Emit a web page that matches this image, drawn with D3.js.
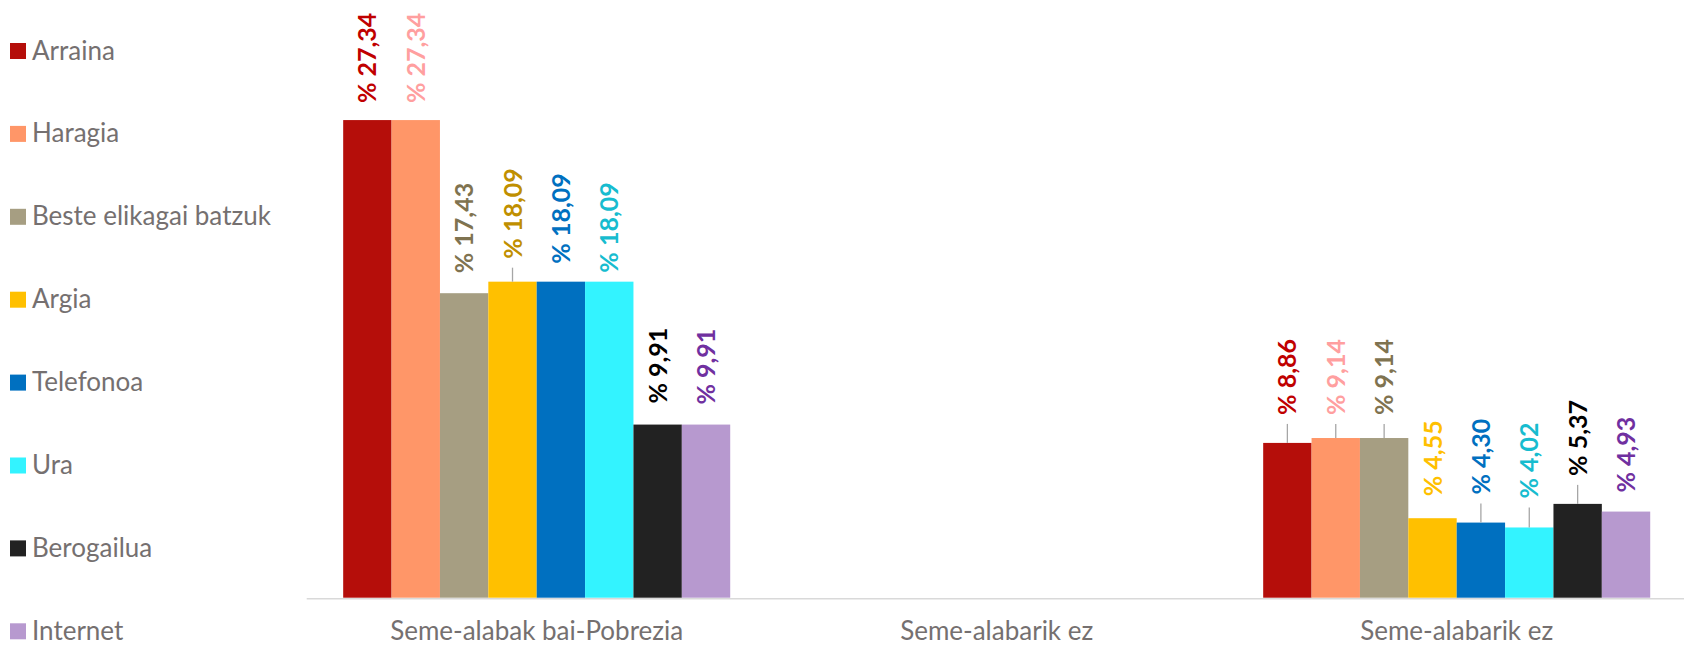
<!DOCTYPE html>
<html>
<head>
<meta charset="utf-8">
<script src="https://cdn.jsdelivr.net/npm/d3@7/dist/d3.min.js"></script>
<style>
  body { margin: 0; background: #fff; }
  .legText, .catText { font-family: Lato, "Open Sans", sans-serif; fill: #757070; font-size: 26px; }
  .valText { font-family: Lato, sans-serif; font-weight: bold; font-size: 25px; }
</style>
</head>
<body>
<div id="chart"></div>
<script>
// categories (the middle one has no bars)
var categories = ["Seme-alabak bai-Pobrezia", "Seme-alabarik ez", "Seme-alabarik ez"];

// series names
var seriesNames = ["Arraina", "Haragia", "Beste elikagai batzuk", "Argia",
                   "Telefonoa", "Ura", "Berogailua", "Internet"];

// values per series, one for each category
var arraina    = [27.34, null, 8.86];
var haragia    = [27.34, null, 9.14];
var beste      = [17.43, null, 9.14];
var argia      = [18.09, null, 4.55];
var telefonoa  = [18.09, null, 4.30];
var ura        = [18.09, null, 4.02];
var berogailua = [9.91,  null, 5.37];
var internet   = [9.91,  null, 4.93];

var allValues = [arraina, haragia, beste, argia, telefonoa, ura, berogailua, internet];

// colours
var barColors = ["#B50E0A", "#FF9668", "#A69E82", "#FFC000", "#0070C0", "#33F3FF", "#222222", "#B799CF"];
var labelColors = [
  ["#C00000", null, "#C00000"],
  ["#FF9F9F", null, "#FF9F9F"],
  ["#7F7350", null, "#7F7350"],
  ["#BF8F00", null, "#FFC000"],
  ["#0070C0", null, "#0070C0"],
  ["#17BCCF", null, "#17BCCF"],
  ["#000000", null, "#000000"],
  ["#7030A0", null, "#7030A0"]
];

// how far each label sits above its bar (px), labels were moved by hand in the original
var labelLift = [
  [17, 0, 28], [17, 0, 23], [20, 0, 23], [23, 0, 22],
  [18, 0, 28], [9, 0, 29], [21, 0, 28], [20, 0, 19]
];

var width = 1684;
var height = 646;
var baseY = 597.7;

var svg = d3.select("#chart").append("svg")
    .attr("width", width)
    .attr("height", height);

// scales
var x0 = d3.scaleBand()
    .domain(d3.range(categories.length))
    .range([306.7, 306.7 + 460 * 3])
    .paddingInner(0)
    .paddingOuter(0);

var x1 = d3.scaleBand()
    .domain(d3.range(seriesNames.length))
    .range([0, x0.bandwidth()])
    .paddingOuter(36.5 / 48.4)
    .paddingInner(0);

var y = d3.scaleLinear()
    .domain([0, 30])
    .range([baseY, baseY - 30 * 17.47]);

// build flat table for drawing
var table = [];
allValues.forEach(function(vals, s) {
    vals.forEach(function(v, c) {
        if (v != null) table.push({ s: s, c: c, v: v });
    });
});

function fmt(v) { return "% " + v.toFixed(2).replace(".", ","); }

// bars
svg.append("g").selectAll("rect")
    .data(table)
    .enter()
    .append("rect")
    .attr("x", function(d) { return x0(d.c) + x1(d.s); })
    .attr("y", function(d) { return y(d.v); })
    .attr("width", x1.bandwidth())
    .attr("height", function(d) { return y(0) - y(d.v); })
    .style("fill", function(d) { return barColors[d.s]; });

// x axis line
svg.append("line")
    .attr("x1", x0.range()[0])
    .attr("x2", width)
    .attr("y1", baseY + 1)
    .attr("y2", baseY + 1)
    .style("stroke", "#D9D9D9")
    .style("stroke-width", 1.6);

// category labels
svg.append("g").selectAll("text")
    .data(categories)
    .enter()
    .append("text")
    .attr("class", "catText")
    .attr("x", function(d, i) { return x0(i) + x0.bandwidth() / 2; })
    .attr("y", 640)
    .attr("text-anchor", "middle")
    .text(function(d) { return d; });

// leader lines
svg.append("g").selectAll("line")
    .data(table.filter(function(d) { return labelLift[d.s][d.c] >= 23; }))
    .enter()
    .append("line")
    .attr("x1", function(d) { return x0(d.c) + x1(d.s) + x1.bandwidth() / 2; })
    .attr("x2", function(d) { return x0(d.c) + x1(d.s) + x1.bandwidth() / 2; })
    .attr("y1", function(d) { return y(d.v); })
    .attr("y2", function(d) { return y(d.v) - labelLift[d.s][d.c] + 9; })
    .style("stroke", "#A6A6A6")
    .style("stroke-width", 1.3);

// value labels (rotated)
svg.append("g").selectAll("text")
    .data(table)
    .enter()
    .append("text")
    .attr("class", "valText")
    .attr("transform", function(d) {
        var cx = x0(d.c) + x1(d.s) + x1.bandwidth() / 2;
        var ty = y(d.v) - labelLift[d.s][d.c];
        return "translate(" + cx + "," + ty + ")rotate(-90)";
    })
    .attr("dy", "0.36em")
    .style("fill", function(d) { return labelColors[d.s][d.c]; })
    .text(function(d) { return fmt(d.v); });

// legend
var legend = svg.append("g").selectAll("g")
    .data(seriesNames)
    .enter()
    .append("g")
    .attr("transform", function(d, i) { return "translate(10," + (51 + i * 82.9) + ")"; });

legend.append("rect")
    .attr("x", 0)
    .attr("y", -8)
    .attr("width", 16)
    .attr("height", 16)
    .style("fill", function(d, i) { return barColors[i]; });

legend.append("text")
    .attr("class", "legText")
    .attr("x", 22)
    .attr("y", 8.5)
    .text(function(d) { return d; });
</script>
</body>
</html>
